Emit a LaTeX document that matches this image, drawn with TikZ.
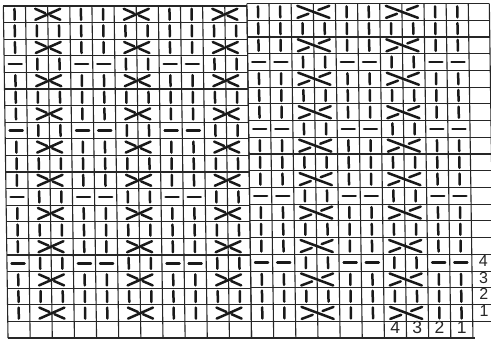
\documentclass[tikz,border=0pt]{standalone}
\usepackage{fontspec}
\setmainfont{Liberation Sans}
\begin{document}
\begin{tikzpicture}[x=1pt,y=-1pt,
  gridline/.style={line width=1.1pt,black!85},
  sym/.style={line width=2.5pt,line cap=round,black!90},
  num/.style={font=\fontsize{17.5}{17.5}\selectfont,inner sep=0pt,text=black!85},
  rownum/.style={font=\fontsize{16}{16}\selectfont,inner sep=0pt,text=black!85}]
\useasboundingbox (0,0) rectangle (491,341);
\fill[white] (0,0) rectangle (491,341);
\clip (0,0) rectangle (491,341);
\begin{scope}[xshift=-4.72pt,xslant=-0.014]
% left grid
\foreach \j in {0,...,20}{\draw[gridline] (8,6+16.6*\j) -- (251.54,6+16.6*\j);}
\foreach \i in {0,...,11}{\draw[gridline] (8+22.14*\i,6) -- (8+22.14*\i,338);}
% right grid
\foreach \j in {0,...,19}{\draw[gridline] (251.54,3.5+16.725*\j) -- (494,3.5+16.725*\j);}
\draw[gridline] (251.54,338) -- (474.94,338);
\foreach \i in {11,...,21}{\draw[gridline] (8+22.14*\i,3.5) -- (8+22.14*\i,338);}
\draw[gridline] (494,3.5) -- (494,321.3);
% symbols
\foreach \r in {1,...,19}{
  \foreach \c in {1,...,21}{
    \pgfmathtruncatemacro\rmod{mod(\r,4)}
    \pgfmathtruncatemacro\cmod{mod(\c,4)}
    \ifnum\c<12 \def\tp{6}\def\rh{16.6}\else\def\tp{3.5}\def\rh{16.725}\fi
    \pgfmathsetmacro\ccx{8+22.14*(\c-0.5)}
    \pgfmathsetmacro\ccy{\tp+\rh*(\r-0.5)}
    \pgfmathsetmacro\bx{8+22.14*\c}
    \ifnum\cmod>1
      \ifodd\r
        \ifnum\cmod=2
          \ifnum\c<12
            \draw[sym] (\bx-12.5,\ccy+5.5) -- (\bx+12.5,\ccy-5.5);
            \draw[sym] (\bx-12.5,\ccy-5.5) -- (\bx-2.5,\ccy-1.1);
            \draw[sym] (\bx+2.5,\ccy+1.1) -- (\bx+12.5,\ccy+5.5);
          \else
            \draw[sym] (\bx-16,\ccy-6) -- (\bx+16,\ccy+6);
            \draw[sym] (\bx-16,\ccy+6) -- (\bx-5,\ccy+1.9);
            \draw[sym] (\bx+5,\ccy-1.9) -- (\bx+16,\ccy-6);
          \fi
        \fi
      \else
        \draw[sym] (\ccx,\ccy-5.5) -- (\ccx,\ccy+5.5);
      \fi
    \else
      \ifnum\rmod=0
        \draw[sym] (\ccx-6.5,\ccy) -- (\ccx+6.5,\ccy);
      \else
        \draw[sym] (\ccx,\ccy-5.5) -- (\ccx,\ccy+5.5);
      \fi
    \fi
  }
}
% stitch numbers
\node[num] (s4) at (395.4,327) {4};
\node[num] (s3) at (417.5,327) {3};
\node[num] (s2) at (439.7,327) {2};
\node[num] (s1) at (461.8,327) {1};
% row numbers
\node[rownum] (w4) at (484.5,261) {4};
\node[rownum] (w3) at (484.5,277.5) {3};
\node[rownum] (w2) at (484.5,294) {2};
\node[rownum] (w1) at (484.5,311) {1};
\end{scope}
\end{tikzpicture}
\end{document}
